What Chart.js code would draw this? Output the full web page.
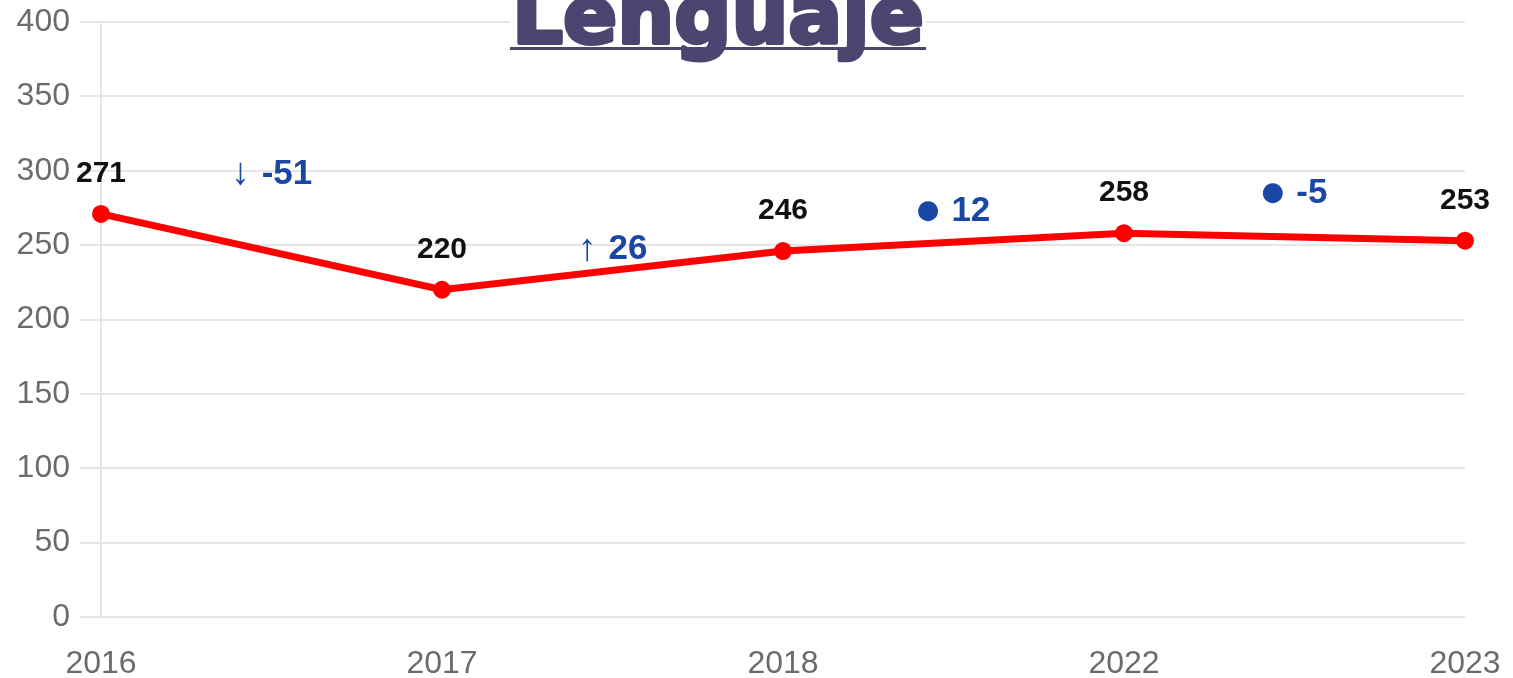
<!DOCTYPE html>
<html>
<head>
<meta charset="utf-8">
<script src="https://cdn.jsdelivr.net/npm/chart.js@4.4.0/dist/chart.umd.min.js"></script>
<style>
  html, body { margin: 0; padding: 0; background: #fff; }
  #wrap { width: 1513px; height: 678px; }
</style>
</head>
<body>
<div id="wrap"><canvas id="chart"></canvas></div>
<script>
var years = ['2016', '2017', '2018', '2022', '2023'];
var scores = [271, 220, 246, 258, 253];
var changes = [-51, 26, 12, -5];
var changeMarks = ['↓', '↑', '●', '●'];
var chartTitle = 'Lenguaje';

var blue = '#1a47a6';

// score above each point, change between each pair, title on top
var labelsPlugin = {
    id: 'labels',
    afterDatasetsDraw: function(chart) {
        var ctx = chart.ctx;
        var pts = chart.getDatasetMeta(0).data;
        ctx.save();
        ctx.textBaseline = 'middle';
        ctx.textAlign = 'center';
        ctx.fillStyle = '#111';
        ctx.font = 'bold 30px "Liberation Sans", Arial, sans-serif';
        pts.forEach(function(p, i) {
            ctx.fillText(scores[i], p.x, p.y - 40);
        });

        ctx.textAlign = 'left';
        for (var i = 0; i < changes.length; i++) {
            var a = pts[i], b = pts[i + 1];
            var cx = (a.x + b.x) / 2;
            var cy = a.y - 40;
            var markFont = changeMarks[i] == '●' ? '26px "DejaVu Sans", sans-serif' : '38px "Liberation Sans", Arial, sans-serif';
            var valFont = 'bold 35px "Liberation Sans", Arial, sans-serif';
            var txt = String(changes[i]);
            ctx.font = markFont;
            var w1 = ctx.measureText(changeMarks[i]).width;
            ctx.font = valFont;
            var w2 = ctx.measureText(txt).width;
            var gap = 12;
            var x0 = cx - (w1 + gap + w2) / 2;
            ctx.fillStyle = blue;
            ctx.font = markFont;
            ctx.fillText(changeMarks[i], x0, cy);
            ctx.font = valFont;
            ctx.fillText(txt, x0 + w1 + gap, cy);
        }
        ctx.restore();
    },
    afterDraw: function(chart) {
        var ctx = chart.ctx;
        ctx.save();
        ctx.font = 'bold 80px "DejaVu Sans", sans-serif';
        ctx.textAlign = 'center';
        ctx.textBaseline = 'alphabetic';
        var w = ctx.measureText(chartTitle).width + 4;
        var cx = 718;
        ctx.fillStyle = '#fff';
        ctx.fillRect(cx - w / 2, 0, w, 50);
        ctx.fillStyle = '#4b4570';
        ctx.strokeStyle = '#4b4570';
        ctx.lineWidth = 4;
        ctx.lineJoin = 'round';
        ctx.strokeText(chartTitle, cx, 43);
        ctx.fillText(chartTitle, cx, 43);
        ctx.fillRect(cx - w / 2, 47, w, 3);
        ctx.restore();
    }
};

var ctx = document.getElementById('chart');
new Chart(ctx, {
    type: 'line',
    data: {
        labels: years,
        datasets: [{
            data: scores,
            borderColor: '#ff0000',
            backgroundColor: '#ff0000',
            borderWidth: 7,
            pointRadius: 8,
            pointBorderWidth: 2,
            pointBackgroundColor: '#ff0000',
            pointBorderColor: '#ff0000',
            tension: 0
        }]
    },
    options: {
        responsive: true,
        maintainAspectRatio: false,
        animation: false,
        layout: { padding: { top: 22, right: 48, left: 0, bottom: 0 } },
        plugins: {
            legend: { display: false },
            title: { display: false },
            tooltip: { enabled: false }
        },
        scales: {
            x: {
                offset: false,
                grid: { display: false },
                border: { display: false },
                ticks: {
                    color: '#6b6b6b',
                    font: { family: '"Liberation Sans", Arial, sans-serif', size: 32 },
                    padding: 20,
                    maxRotation: 0,
                    autoSkip: false
                },
                afterFit: function(scale) {
                    scale.height = 61;
                    scale.paddingLeft = 0;
                    scale.paddingRight = 0;
                }
            },
            y: {
                min: 0,
                max: 400,
                grid: { color: '#e6e6e6', lineWidth: 2, tickLength: 21 },
                border: { display: true, color: '#e6e6e6', width: 2 },
                ticks: {
                    stepSize: 50,
                    color: '#6b6b6b',
                    padding: 10,
                    font: { family: '"Liberation Sans", Arial, sans-serif', size: 32 }
                },
                afterFit: function(scale) {
                    scale.width = 101;
                    scale.paddingTop = 0;
                    scale.paddingBottom = 0;
                }
            }
        }
    },
    plugins: [labelsPlugin]
});
</script>
</body>
</html>
